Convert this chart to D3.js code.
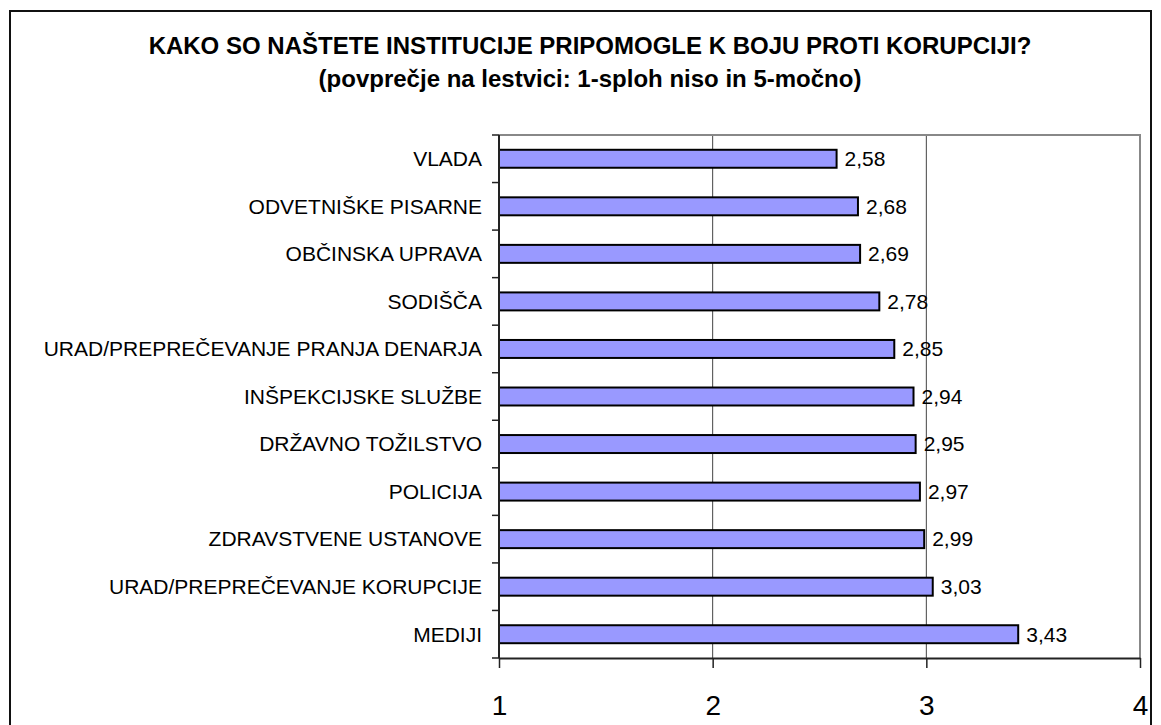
<!DOCTYPE html>
<html>
<head>
<meta charset="utf-8">
<script src="https://cdn.jsdelivr.net/npm/d3@7"></script>
<style>
  body { margin: 0; background: #fff; }
  svg { display: block; font-family: "Liberation Sans", Arial, sans-serif; }
</style>
</head>
<body>
<svg width="1161" height="725"></svg>
<script>
var categories = ["VLADA", "ODVETNIŠKE PISARNE", "OBČINSKA UPRAVA", "SODIŠČA",
	"URAD/PREPREČEVANJE PRANJA DENARJA", "INŠPEKCIJSKE SLUŽBE", "DRŽAVNO TOŽILSTVO",
	"POLICIJA", "ZDRAVSTVENE USTANOVE", "URAD/PREPREČEVANJE KORUPCIJE", "MEDIJI"];
var values = [2.58, 2.68, 2.69, 2.78, 2.85, 2.94, 2.95, 2.97, 2.99, 3.03, 3.43];
var xTicks = [1, 2, 3, 4];
var titleLines = ["KAKO SO NAŠTETE INSTITUCIJE PRIPOMOGLE K BOJU PROTI KORUPCIJI?",
	"(povprečje na lestvici: 1-sploh niso in 5-močno)"];

var svg = d3.select("svg");
var pLeft = 499, pRight = 1140, pTop = 135, pBottom = 658;

// outer frame
svg.append("rect").attr("x", 10).attr("y", 11).attr("width", 1141).attr("height", 730)
	.attr("fill", "none").attr("stroke", "#111").attr("stroke-width", 2);

svg.selectAll("text.title").data(titleLines).enter().append("text")
	.attr("class", "title")
	.attr("x", 590).attr("y", (d, i) => 54 + i * 33)
	.attr("text-anchor", "middle").attr("font-weight", "bold").attr("font-size", 24)
	.text(d => d);

var x = d3.scaleLinear().domain([1, 4]).range([pLeft, pRight]);
var y = d3.scaleBand().domain(categories).range([pTop, pBottom]).paddingInner(0.58).paddingOuter(0.29);

// gridlines
svg.selectAll("line.grid").data(xTicks.slice(1, -1)).enter().append("line")
	.attr("x1", d => x(d)).attr("x2", d => x(d)).attr("y1", pTop).attr("y2", pBottom)
	.attr("stroke", "#444").attr("stroke-width", 1);

// plot border top/right
svg.append("path").attr("d", `M${pLeft},${pTop}H${pRight}V${pBottom}`)
	.attr("fill", "none").attr("stroke", "#888").attr("stroke-width", 2);

// bars
svg.selectAll("rect.bar").data(values).enter().append("rect")
	.attr("x", x(1)).attr("y", (d, i) => y(categories[i]) + 1)
	.attr("width", d => x(d) - x(1)).attr("height", y.bandwidth() - 2)
	.attr("fill", "#9999ff").attr("stroke", "#000").attr("stroke-width", 2);

svg.selectAll("text.val").data(values).enter().append("text")
	.attr("x", d => x(d) + 8).attr("y", (d, i) => y(categories[i]) + y.bandwidth() / 2)
	.attr("dy", "0.35em").attr("font-size", 21)
	.text(d => d.toFixed(2).replace(".", ","));

// category labels
svg.selectAll("text.cat").data(categories).enter().append("text")
	.attr("x", pLeft - 17).attr("y", d => y(d) + y.bandwidth() / 2)
	.attr("dy", "0.35em").attr("text-anchor", "end").attr("font-size", 21)
	.text(d => d);

// y axis line and ticks at band boundaries
svg.append("line").attr("x1", pLeft).attr("x2", pLeft).attr("y1", pTop).attr("y2", pBottom)
	.attr("stroke", "#222").attr("stroke-width", 2);
svg.selectAll("line.ytick").data(d3.range(categories.length + 1)).enter().append("line")
	.attr("x1", pLeft - 7).attr("x2", pLeft)
	.attr("y1", i => pTop + i * y.step()).attr("y2", i => pTop + i * y.step())
	.attr("stroke", "#222").attr("stroke-width", 1.5);

// x axis
var xAxis = svg.append("g").attr("transform", `translate(0,${pBottom})`)
	.call(d3.axisBottom(x).tickValues(xTicks).tickSize(10).tickSizeOuter(0).tickFormat(d3.format("d")));
xAxis.select(".domain").attr("stroke", "#222").attr("stroke-width", 2);
xAxis.selectAll(".tick line").attr("stroke", "#222").attr("stroke-width", 1.5);
xAxis.selectAll(".tick text").attr("y", 57).attr("dy", null)
	.attr("font-size", 28).attr("fill", "#000").attr("font-family", "Liberation Sans, Arial, sans-serif");
</script>
</body>
</html>
